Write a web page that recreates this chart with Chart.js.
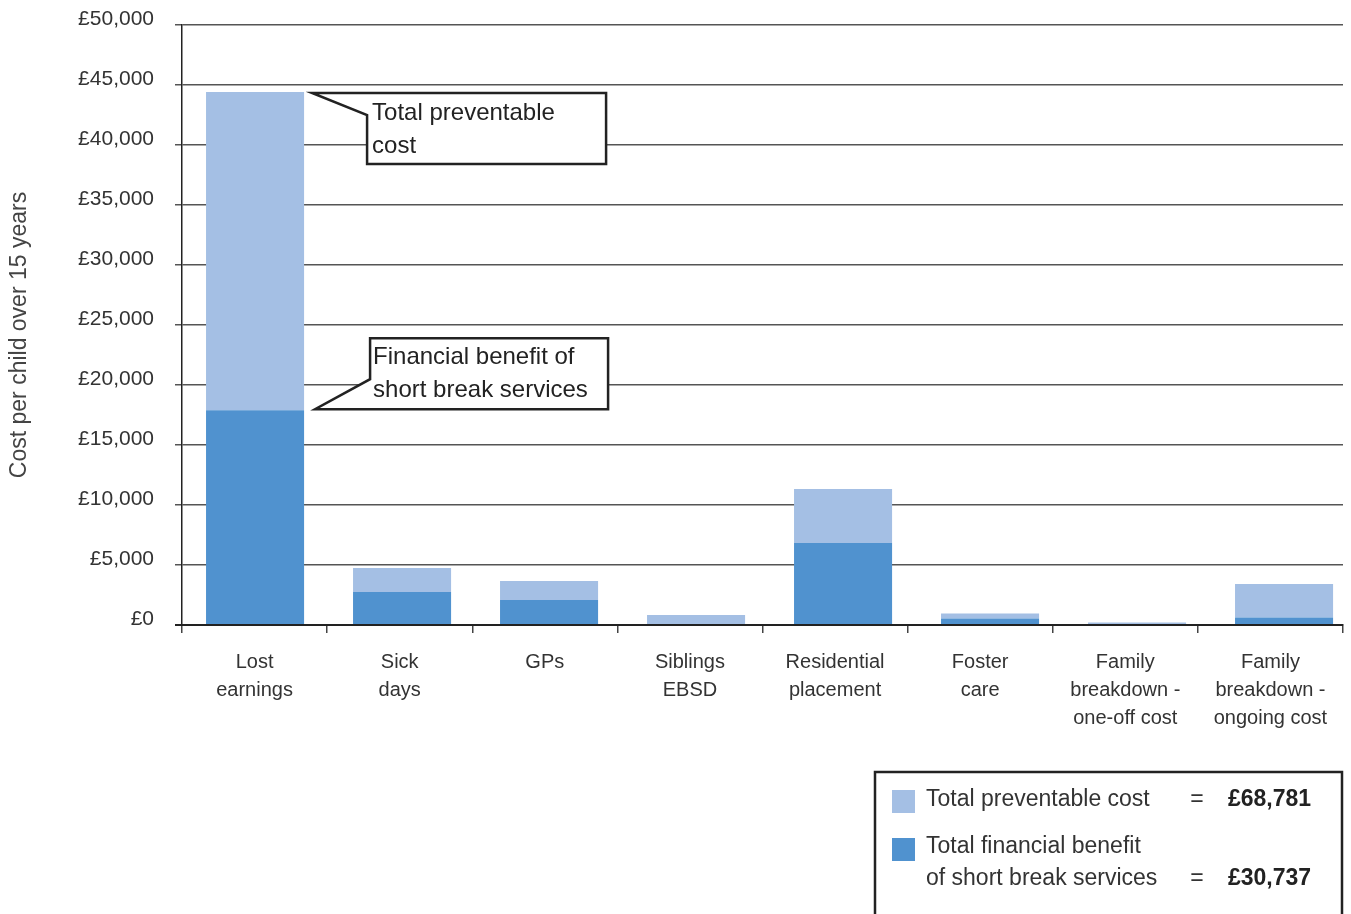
<!DOCTYPE html>
<html>
<head>
<meta charset="utf-8">
<script src="https://cdn.jsdelivr.net/npm/chart.js@4/dist/chart.umd.min.js"></script>
<style>
  html, body { margin: 0; padding: 0; background: #fff; }
  #wrap { width: 1351px; height: 914px; position: relative; }
</style>
</head>
<body>
<div id="wrap"><canvas id="c" width="1351" height="914"></canvas></div>
<script>
// ---- Data ----
const categories = [
  ["Lost", "earnings"],
  ["Sick", "days"],
  ["GPs"],
  ["Siblings", "EBSD"],
  ["Residential", "placement"],
  ["Foster", "care"],
  ["Family", "breakdown -", "one-off cost"],
  ["Family", "breakdown -", "ongoing cost"]
];
// Financial benefit of short break services (dark part)
const benefitValues = [17900, 2750, 2083, 0, 6833, 540, 0, 625];
// Total preventable cost (full bar height)
const totalValues = [44417, 4750, 3667, 833, 11333, 960, 210, 3417];
// Remaining preventable cost above the benefit (light part)
const remainderValues = totalValues.map((t, i) => t - benefitValues[i]);

const yTickValues = [0, 5000, 10000, 15000, 20000, 25000, 30000, 35000, 40000, 45000, 50000];
const yAxisTitle = "Cost per child over 15 years";
const legendTotalLabel = "Total preventable cost";
const legendTotalValue = "£68,781";
const legendBenefitLabel = ["Total financial benefit", "of short break services"];
const legendBenefitValue = "£30,737";
const calloutTotal = ["Total preventable", "cost"];
const calloutBenefit = ["Financial benefit of", "short break services"];

const LIGHT = "#a4bfe4";
const DARK = "#5092cf";
const TEXT = "#333333";
const FONT = "'Liberation Sans', Arial, sans-serif";

const overlay = {
  id: "overlay",
  afterDraw(chart) {
    const ctx = chart.ctx;
    const area = chart.chartArea;
    ctx.save();

    // Y axis title
    ctx.save();
    ctx.translate(20, 335);
    ctx.rotate(-Math.PI / 2);
    ctx.fillStyle = "#444";
    ctx.font = "23px " + FONT;
    ctx.textAlign = "center";
    ctx.textBaseline = "middle";
    ctx.fillText(yAxisTitle, 0, 0);
    ctx.restore();

    const darkBar = chart.getDatasetMeta(0).data[0];
    const lightBar = chart.getDatasetMeta(1).data[0];

    ctx.lineWidth = 2.5;
    ctx.strokeStyle = "#222";
    ctx.lineJoin = "miter";

    // Callout 1: total preventable cost
    {
      const tx = lightBar.x + lightBar.width / 2 + 8;
      const ty = lightBar.y + 1;
      const left = tx + 55, right = tx + 294, top = ty, bottom = ty + 71;
      ctx.beginPath();
      ctx.moveTo(tx, ty);
      ctx.lineTo(right, top);
      ctx.lineTo(right, bottom);
      ctx.lineTo(left, bottom);
      ctx.lineTo(left, ty + 22);
      ctx.closePath();
      ctx.fillStyle = "#fff";
      ctx.fill();
      ctx.stroke();
      ctx.fillStyle = "#222";
      ctx.font = "24px " + FONT;
      ctx.textAlign = "left";
      ctx.textBaseline = "middle";
      ctx.fillText(calloutTotal[0], left + 5, top + 20);
      ctx.fillText(calloutTotal[1], left + 5, top + 53);
    }

    // Callout 2: financial benefit
    {
      const tx = darkBar.x + darkBar.width / 2 + 11;
      const ty = darkBar.y - 1;
      const left = tx + 55, right = tx + 293, top = ty - 71, bottom = ty;
      ctx.beginPath();
      ctx.moveTo(left, top);
      ctx.lineTo(right, top);
      ctx.lineTo(right, bottom);
      ctx.lineTo(tx, ty);
      ctx.lineTo(left, ty - 30);
      ctx.closePath();
      ctx.fillStyle = "#fff";
      ctx.fill();
      ctx.stroke();
      ctx.fillStyle = "#222";
      ctx.font = "24px " + FONT;
      ctx.textAlign = "left";
      ctx.textBaseline = "middle";
      ctx.fillText(calloutBenefit[0], left + 3, top + 19);
      ctx.fillText(calloutBenefit[1], left + 3, top + 52);
    }

    // Legend box
    {
      const right = area.right - 1;
      const left = right - 467;
      const top = 772;
      ctx.lineWidth = 2.5;
      ctx.strokeStyle = "#222";
      ctx.strokeRect(left, top, right - left, 160);
      const sx = left + 17;
      ctx.fillStyle = LIGHT;
      ctx.fillRect(sx, 790, 23, 23);
      ctx.fillStyle = DARK;
      ctx.fillRect(sx, 838, 23, 23);
      ctx.fillStyle = TEXT;
      ctx.font = "23px " + FONT;
      ctx.textBaseline = "middle";
      ctx.textAlign = "left";
      const tx = left + 51;
      ctx.fillText(legendTotalLabel, tx, 800);
      ctx.fillText(legendBenefitLabel[0], tx, 847);
      ctx.fillText(legendBenefitLabel[1], tx, 879);
      ctx.textAlign = "center";
      ctx.fillText("=", left + 322, 800);
      ctx.fillText("=", left + 322, 879);
      ctx.textAlign = "left";
      ctx.fillStyle = "#222";
      ctx.font = "bold 23px " + FONT;
      ctx.fillText(legendTotalValue, left + 353, 800);
      ctx.fillText(legendBenefitValue, left + 353, 879);
    }
    ctx.restore();
  }
};

const toPoints = arr => arr.map((v, i) => ({ x: i, y: v }));

new Chart(document.getElementById("c"), {
  type: "bar",
  data: {
    labels: categories,
    datasets: [
      {
        label: "Financial benefit of short break services",
        data: toPoints(benefitValues),
        xAxisID: "xb",
        backgroundColor: DARK,
        borderWidth: 0,
        barPercentage: 0.667,
        categoryPercentage: 1.0
      },
      {
        label: "Total preventable cost",
        data: toPoints(remainderValues),
        xAxisID: "xb",
        backgroundColor: LIGHT,
        borderWidth: 0,
        barPercentage: 0.667,
        categoryPercentage: 1.0
      }
    ]
  },
  options: {
    responsive: false,
    animation: false,
    devicePixelRatio: 1,
    layout: { padding: { left: 0, right: 8, top: 25, bottom: 0 } },
    plugins: {
      legend: { display: false },
      tooltip: { enabled: false }
    },
    scales: {
      xb: {
        type: "linear",
        display: false,
        stacked: true,
        offset: false,
        min: -0.497,
        max: 7.401,
        afterBuildTicks(scale) {
          scale.ticks = categories.map((c, i) => ({ value: i }));
        }
      },
      x: {
        type: "category",
        offset: true,
        afterFit(scale) { scale.height = 289; },
        grid: {
          offset: true,
          drawOnChartArea: false,
          drawTicks: true,
          tickLength: 8,
          color: "#444",
          lineWidth: 1.5
        },
        border: { display: true, color: "#222", width: 2 },
        ticks: {
          color: TEXT,
          font: { family: FONT, size: 20, lineHeight: 1.4 },
          padding: 15,
          maxRotation: 0,
          autoSkip: false
        }
      },
      y: {
        stacked: true,
        min: 0,
        max: 50000,
        afterFit(scale) {
          scale.width = 182;
          scale.paddingTop = 0;
          scale.paddingBottom = 0;
        },
        afterBuildTicks(scale) { scale.ticks = yTickValues.map(v => ({ value: v })); },
        grid: {
          color: ctx => ctx.tick && ctx.tick.value === 0 ? "#222" : "#555",
          lineWidth: ctx => ctx.tick && ctx.tick.value === 0 ? 2 : 1.5,
          drawTicks: true,
          tickLength: 7
        },
        border: { display: true, color: "#222", width: 1.5 },
        ticks: {
          color: TEXT,
          font: { family: FONT, size: 21 },
          padding: 21,
          labelOffset: -6,
          callback: v => "£" + Number(v).toLocaleString("en-GB")
        }
      }
    }
  },
  plugins: [overlay]
});
</script>
</body>
</html>
